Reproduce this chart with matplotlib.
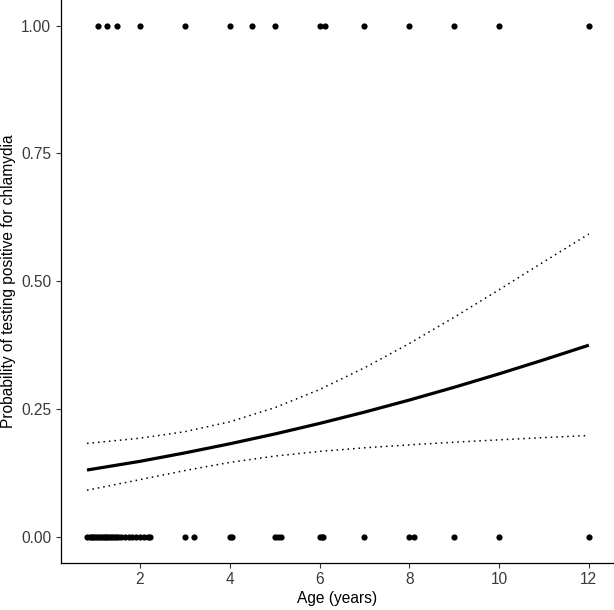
import matplotlib
matplotlib.use("Agg")
import matplotlib.pyplot as plt

plt.rcParams['font.family'] = ['Liberation Sans', 'DejaVu Sans']

# observed ages, split by test result
age_pos = [1.06, 1.27, 1.49, 2.0, 3.0, 4.0, 4.5, 5.0, 6.0, 6.12, 7.0, 8.0, 9.0, 10.0, 12.0]
age_neg = [0.83, 0.88, 0.92, 0.96, 1.0, 1.04, 1.08, 1.12, 1.17, 1.21, 1.25, 1.29,
           1.33, 1.38, 1.42, 1.46, 1.5, 1.58, 1.67, 1.75, 1.83, 1.92, 2.0, 2.08,
           2.17, 2.22, 3.0, 3.2, 4.0, 4.05, 5.0, 5.08, 5.15, 6.0, 6.05, 6.08,
           7.0, 8.0, 8.1, 9.0, 10.0, 12.0]

# fitted probability and 95% band
curve_age = [0.82, 2, 3, 4, 5, 6, 7, 8, 9, 10, 11, 12]
fit = [0.131, 0.148, 0.1645, 0.1823, 0.2014, 0.2221, 0.2442, 0.2678, 0.2928, 0.3191, 0.3466, 0.3751]
upper = [0.183, 0.1932, 0.206, 0.2253, 0.2528, 0.2884, 0.3308, 0.3783, 0.4297, 0.4835, 0.5383, 0.5925]
lower = [0.0915, 0.1122, 0.130, 0.1459, 0.1582, 0.1674, 0.1744, 0.1802, 0.1854, 0.1900, 0.1944, 0.1986]

fig = plt.figure(figsize=(6.14, 6.10), dpi=100)
ax = fig.add_axes([61 / 614, 47.4 / 610, 553 / 614, 562.6 / 610])

ax.scatter(age_pos, [1] * len(age_pos), s=20, color='black', zorder=3, linewidths=0)
ax.scatter(age_neg, [0] * len(age_neg), s=20, color='black', zorder=3, linewidths=0)

ax.plot(curve_age, fit, color='black', lw=2.3, solid_capstyle='butt')
ax.plot(curve_age, upper, color='black', lw=1.1, linestyle=(0, (1, 2.6)))
ax.plot(curve_age, lower, color='black', lw=1.1, linestyle=(0, (1, 2.6)))

ax.set_xlim(0.24, 12.56)
ax.set_ylim(-0.05, 1.05)
ax.set_xticks([2, 4, 6, 8, 10, 12])
ax.set_yticks([0, 0.25, 0.5, 0.75, 1.0])
ax.set_yticklabels(['0.00', '0.25', '0.50', '0.75', '1.00'])

for side in ['top', 'right']:
    ax.spines[side].set_visible(False)
for side in ['left', 'bottom']:
    ax.spines[side].set_linewidth(0.9)
ax.tick_params(length=3.5, width=0.8, color='#333333', labelcolor='#3a3a3a', labelsize=11.2)

ax.set_xlabel('Age (years)', fontsize=11.2, labelpad=3)
ax.set_ylabel('Probability of testing positive for chlamydia', fontsize=11.2, labelpad=4)

fig.savefig('out.png', dpi=100)
